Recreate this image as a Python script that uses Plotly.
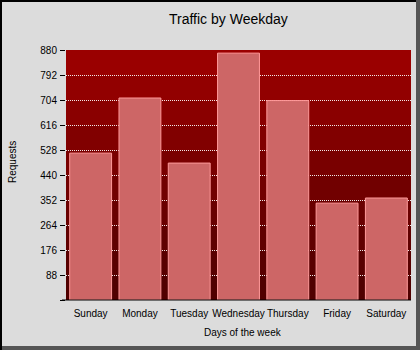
import plotly.graph_objects as go

days = ["Sunday", "Monday", "Tuesday", "Wednesday", "Thursday", "Friday", "Saturday"]
requests = [517, 711, 482, 869, 702, 341, 359]
y_ticks = [0, 88, 176, 264, 352, 440, 528, 616, 704, 792, 880]
y_tick_labels = ["", "88", "176", "264", "352", "440", "528", "616", "704", "792", "880"]

W, H = 420, 350
L, R, T, B = 66, 411, 50, 300  # plot area in pixels
pw, ph = R - L, B - T

def px(x):
    return (x - L) / pw

def py(y):
    return (B - y) / ph

font = "Liberation Sans"

fig = go.Figure()
fig.add_trace(go.Bar(
    x=days, y=requests,
    marker=dict(color="#CD6666", line=dict(color="#FF9A9A", width=1)),
))

shapes = []
# stepped red gradient background
n = len(y_ticks) - 1
top_c, bot_c = 0x9A, 0x50
for i in range(n):
    frac = i / (n - 1)
    c = int(round(top_c + (bot_c - top_c) * frac))
    shapes.append(dict(type="rect", xref="paper", yref="y",
                       x0=0, x1=1, y0=y_ticks[n - i - 1], y1=y_ticks[n - i],
                       fillcolor="#%02X0000" % c, line=dict(width=0), layer="below"))
# x axis line extending a bit to the left
shapes.append(dict(type="line", xref="paper", yref="paper", x0=px(62), x1=1, y0=0, y1=0,
                   line=dict(color="black", width=1)))
# frame
shapes.append(dict(type="rect", xref="paper", yref="paper", x0=px(0), x1=px(2), y0=py(0), y1=py(350),
                   fillcolor="black", line=dict(width=0)))
shapes.append(dict(type="rect", xref="paper", yref="paper", x0=px(0), x1=px(420), y0=py(0), y1=py(2),
                   fillcolor="black", line=dict(width=0)))
shapes.append(dict(type="rect", xref="paper", yref="paper", x0=px(416), x1=px(420), y0=py(0), y1=py(350),
                   fillcolor="#555555", line=dict(width=0)))
shapes.append(dict(type="rect", xref="paper", yref="paper", x0=px(2), x1=px(420), y0=py(346), y1=py(350),
                   fillcolor="#555555", line=dict(width=0)))

fig.update_layout(
    width=W, height=H,
    margin=dict(l=L, r=W - R, t=T, b=H - B, pad=0, autoexpand=False),
    paper_bgcolor="#DCDCDC",
    plot_bgcolor="rgba(0,0,0,0)",
    showlegend=False,
    bargap=0.15,
    font=dict(family=font, size=10, color="black"),
    shapes=shapes,
    annotations=[
        dict(text="Traffic by Weekday", xref="paper", yref="paper", x=px(228.5), y=py(19),
             xanchor="center", yanchor="middle", showarrow=False, font=dict(size=14)),
        dict(text="Days of the week", xref="paper", yref="paper", x=px(243), y=py(332),
             xanchor="center", yanchor="middle", showarrow=False, font=dict(size=10)),
        dict(text="Requests", xref="paper", yref="paper", x=px(12), y=py(162),
             xanchor="center", yanchor="middle", showarrow=False, textangle=-90, font=dict(size=10)),
    ],
    xaxis=dict(showgrid=False, showline=False, ticks="", tickfont=dict(size=10),
               tickangle=0, automargin=False, ticklabelstandoff=6),
    yaxis=dict(range=[0, 880], tickvals=y_ticks, ticktext=y_tick_labels,
               showgrid=True, gridcolor="rgba(255,255,255,0.9)", griddash="1px,1px", gridwidth=1,
               zeroline=False, showline=False, ticks="outside", ticklen=5, tickcolor="black",
               tickfont=dict(size=10), ticklabelstandoff=1, automargin=False),
)

fig.write_html("out.html")
